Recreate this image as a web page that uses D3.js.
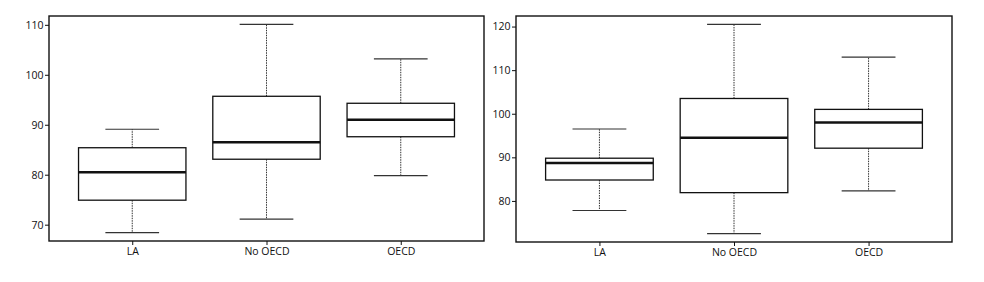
<!DOCTYPE html>
<html>
<head>
<meta charset="utf-8">
<script src="https://cdn.jsdelivr.net/npm/d3@7"></script>
<style>
  body { margin: 0; background: #fff; }
  svg { display: block; }
  text { font-family: "Open Sans", "DejaVu Sans", sans-serif; font-size: 10.5px; fill: #111; }
</style>
</head>
<body>
<svg id="chart" width="984" height="282"></svg>
<script>
// groups on the x axis
var groups = ['LA', 'No OECD', 'OECD'];

// five number summaries, [lower whisker, Q1, median, Q3, upper whisker]
var leftStats = [
    [68.4, 74.9, 80.5, 85.4, 89.1],
    [71.1, 83.1, 86.5, 95.7, 110.1],
    [79.8, 87.6, 91.0, 94.3, 103.2]
];
var rightStats = [
    [77.8, 84.8, 88.7, 89.8, 96.5],
    [72.5, 81.9, 94.5, 103.5, 120.5],
    [82.3, 92.1, 98.0, 101.0, 113.0]
];

var leftTicks = [70, 80, 90, 100, 110];
var rightTicks = [80, 90, 100, 110, 120];

var svg = d3.select('#chart');

function drawPanel(left, right, top, bottom, stats, ticks) {
    var g = svg.append('g');

    // R style: 4% padding on both axes
    var lo = d3.min(stats, function (d) { return d[0]; });
    var hi = d3.max(stats, function (d) { return d[4]; });
    var pad = (hi - lo) * 0.04;
    var y = d3.scaleLinear().domain([lo - pad, hi + pad]).range([bottom, top]);

    var x = d3.scaleLinear().domain([0.5 - 0.12, groups.length + 0.5 + 0.12]).range([left, right]);

    var boxHalf = 0.4;
    var capHalf = 0.2;

    // frame
    g.append('rect')
        .attr('x', left)
        .attr('y', top)
        .attr('width', right - left)
        .attr('height', bottom - top)
        .attr('fill', 'none')
        .attr('stroke', '#111')
        .attr('stroke-width', 1.4);

    // y axis
    var yAxis = d3.axisLeft(y).tickValues(ticks).tickSize(4).tickPadding(1.5);
    var ya = g.append('g').attr('transform', 'translate(' + left + ',0)').call(yAxis);
    ya.select('.domain').remove();
    ya.selectAll('line').attr('stroke', '#111');
    ya.selectAll('text').attr('fill', '#111').style('font-size', '10.5px')
        .attr('font-family', '"Open Sans", "DejaVu Sans", sans-serif');

    // x axis
    var xAxis = d3.axisBottom(x).tickValues([1, 2, 3]).tickSize(4).tickPadding(3)
        .tickFormat(function (d) { return groups[d - 1]; });
    var xa = g.append('g').attr('transform', 'translate(0,' + bottom + ')').call(xAxis);
    xa.select('.domain').remove();
    xa.selectAll('line').attr('stroke', '#111');
    xa.selectAll('text').attr('fill', '#111').style('font-size', '10.5px')
        .attr('font-family', '"Open Sans", "DejaVu Sans", sans-serif');

    for (var i = 0; i < stats.length; i++) {
        var s = stats[i];
        var c = i + 1;

        // whiskers, dotted
        g.append('line')
            .attr('x1', x(c)).attr('x2', x(c))
            .attr('y1', y(s[3])).attr('y2', y(s[4]))
            .attr('stroke', '#333').attr('stroke-width', 1)
            .attr('stroke-dasharray', '1.5,1');
        g.append('line')
            .attr('x1', x(c)).attr('x2', x(c))
            .attr('y1', y(s[1])).attr('y2', y(s[0]))
            .attr('stroke', '#333').attr('stroke-width', 1)
            .attr('stroke-dasharray', '1.5,1');

        // caps
        g.append('line')
            .attr('x1', x(c - capHalf)).attr('x2', x(c + capHalf))
            .attr('y1', y(s[4])).attr('y2', y(s[4]))
            .attr('stroke', '#333').attr('stroke-width', 1.2);
        g.append('line')
            .attr('x1', x(c - capHalf)).attr('x2', x(c + capHalf))
            .attr('y1', y(s[0])).attr('y2', y(s[0]))
            .attr('stroke', '#333').attr('stroke-width', 1.2);

        // box
        g.append('rect')
            .attr('x', x(c - boxHalf))
            .attr('y', y(s[3]))
            .attr('width', x(c + boxHalf) - x(c - boxHalf))
            .attr('height', y(s[1]) - y(s[3]))
            .attr('fill', '#fff')
            .attr('stroke', '#111')
            .attr('stroke-width', 1.3);

        // median
        g.append('line')
            .attr('x1', x(c - boxHalf)).attr('x2', x(c + boxHalf))
            .attr('y1', y(s[2])).attr('y2', y(s[2]))
            .attr('stroke', '#111').attr('stroke-width', 2.4);
    }
}

drawPanel(49, 484, 16, 241, leftStats, leftTicks);
drawPanel(516, 952, 16, 242, rightStats, rightTicks);
</script>
</body>
</html>
